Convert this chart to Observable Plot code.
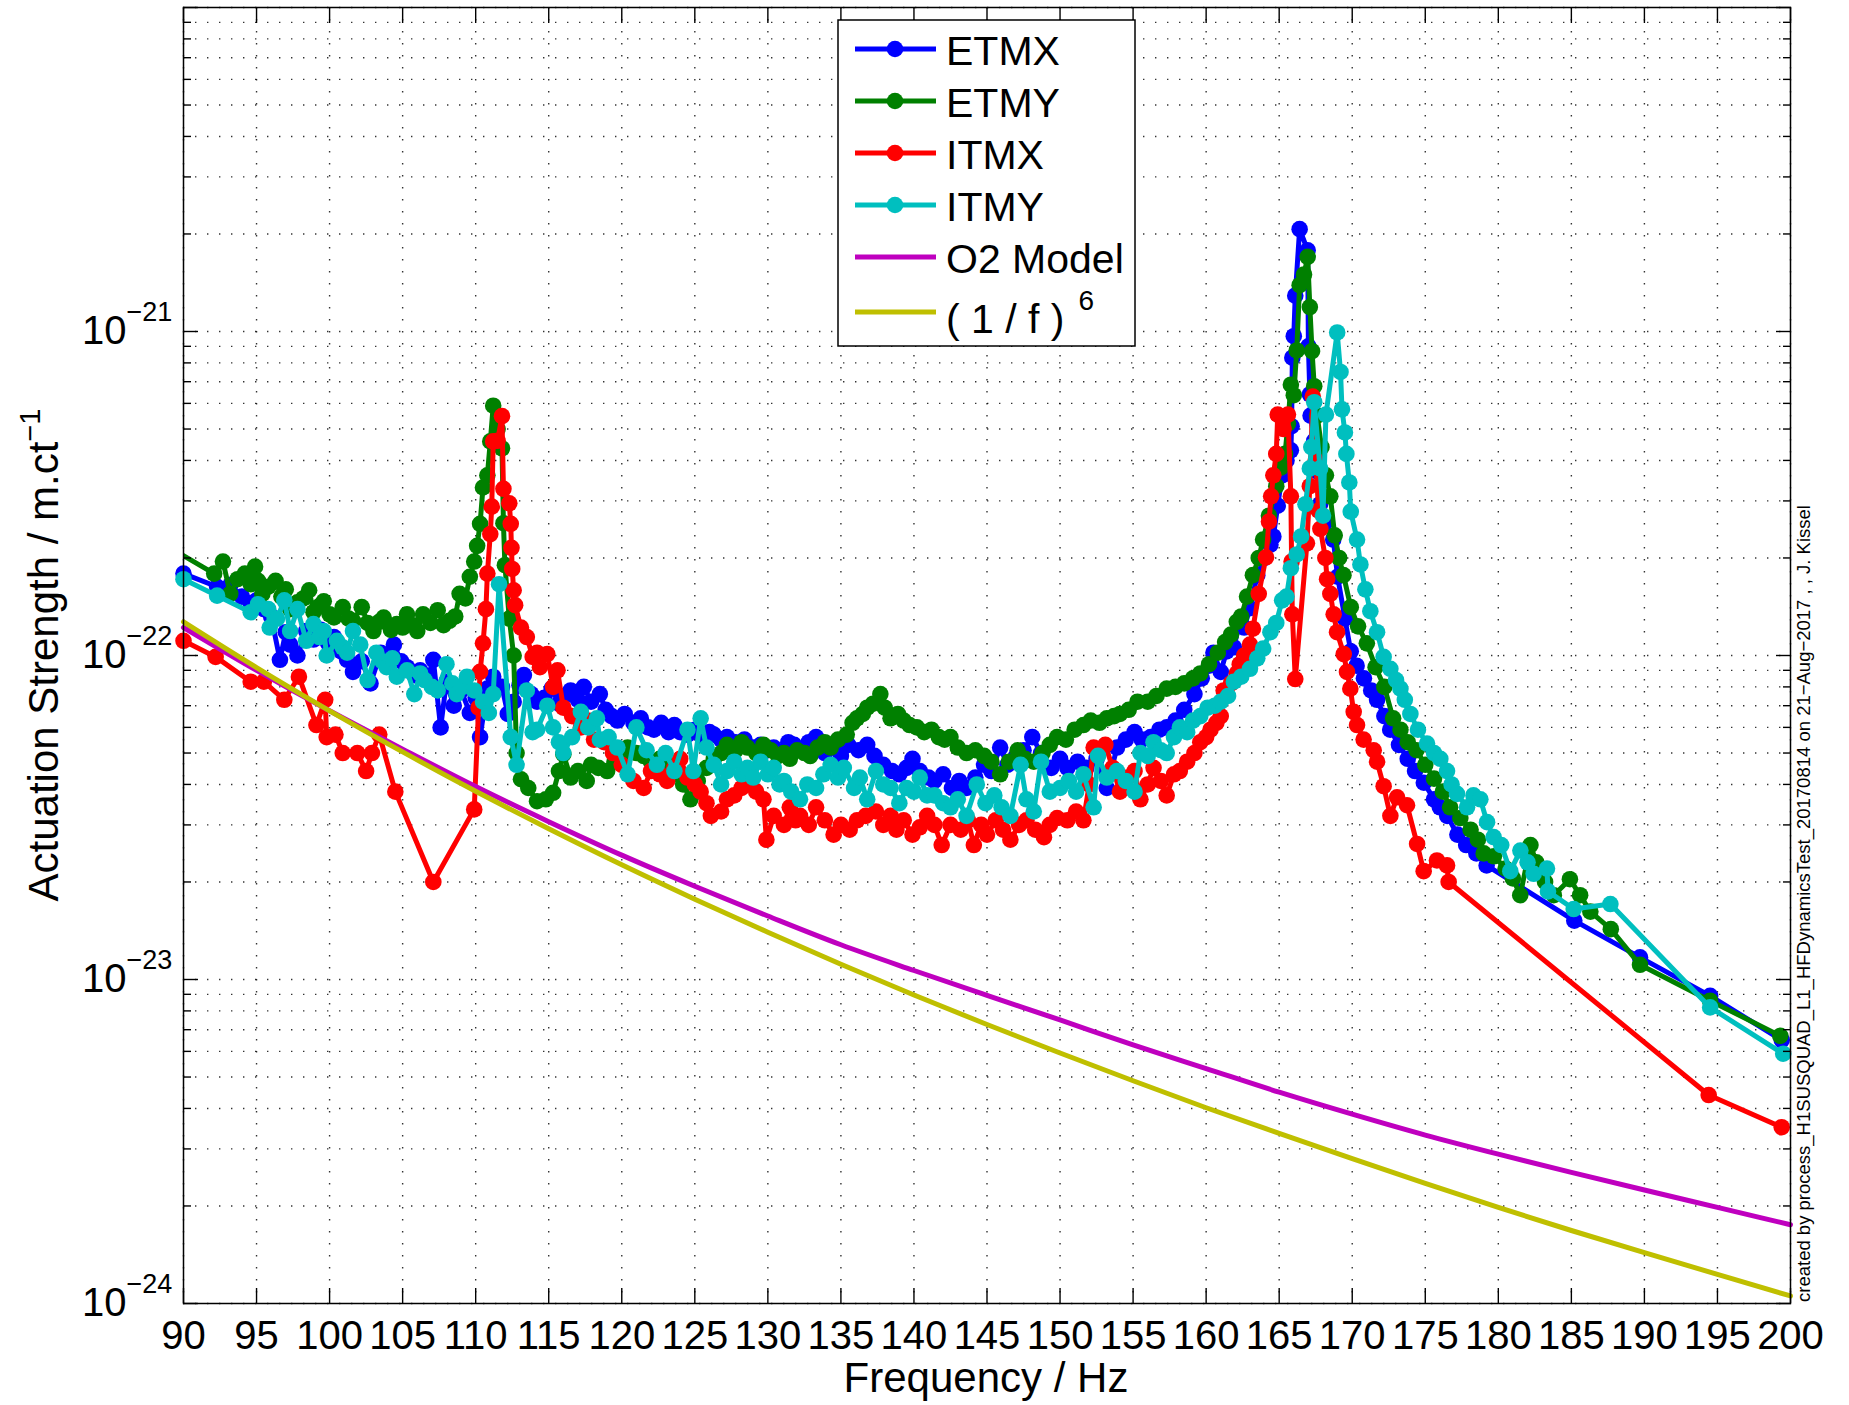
<!DOCTYPE html>
<html><head><meta charset="utf-8">
<script src="https://cdn.jsdelivr.net/npm/d3@7"></script>
<script src="https://cdn.jsdelivr.net/npm/@observablehq/plot@0.6"></script>
<style>html,body{margin:0;padding:0;background:#fff;} #chart svg{display:block;}</style>
</head><body><div id="chart"></div>
<script>
// ---- values (amplitude in units of 1e-23 m/ct) ----
const UNIT = 1e-23;
const xTicks = [90,95,100,105,110,115,120,125,130,135,140,145,150,155,160,165,170,175,180,185,190,195,200];
const yMajorExp = [-24,-23,-22,-21];
const yMajor = [1e-24,1e-23,1e-22,1e-21,1e-20];
const yMinor = [2e-24,3e-24,4e-24,5e-24,6e-24,7e-24,8e-24,9e-24,
                2e-23,3e-23,4e-23,5e-23,6e-23,7e-23,8e-23,9e-23,
                2e-22,3e-22,4e-22,5e-22,6e-22,7e-22,8e-22,9e-22,
                2e-21,3e-21,4e-21,5e-21,6e-21,7e-21,8e-21,9e-21];
const seriesNames = ["ETMX","ETMY","ITMX","ITMY","O2 Model","( 1 / f )"];
const seriesColors = ["#0000ff","#008000","#ff0000","#00bfbf","#bf00bf","#bfbf00"];

const etmx = [[90,17.9],[92.3,16.3],[93.2,16.5],[94.0,15.2],[94.6,14.5],[95.0,14.8],[95.5,13.9],[96.0,13.2],[96.6,9.7],[97.0,11.8],[97.3,10.8],[97.8,10.0],[98.4,11.9],[98.9,11.2],[99.4,12.0],[99.9,10.9],[100.3,11.4],[100.8,10.3],[101.2,9.7],[101.6,8.9],[102.2,9.6],[102.8,8.2],[103.5,10.2],[104.0,9.4],[104.4,10.8],[104.9,9.6],[105.3,9.2],[105.8,8.7],[106.2,9.0],[106.7,8.5],[107.1,9.7],[107.6,6.0],[108.0,8.3],[108.5,7.0],[109.0,7.8],[109.6,6.65],[110.0,7.4],[110.3,5.6],[110.8,7.9],[111.2,8.6],[111.8,8.0],[112.2,6.6],[112.6,7.2],[113.0,8.1],[113.3,8.7],[113.8,7.6],[114.2,7.2],[114.7,7.4],[115.2,7.9],[115.7,7.1],[116.1,7.5],[116.5,7.8],[117.0,7.3],[117.4,8.0],[117.9,7.2],[118.5,7.6],[118.9,6.8],[119.3,6.5],[119.7,6.3],[120.2,6.6],[120.8,6.2],[121.3,6.4],[121.8,6.0],[122.2,5.9],[122.7,6.2],[123.2,5.8],[123.6,6.1],[124.0,5.8],[124.5,5.7],[125.0,5.9],[125.5,5.6],[126.0,5.8],[126.3,5.7],[126.8,5.5],[127.2,5.6],[127.8,5.4],[128.4,5.5],[129.0,5.2],[129.5,5.3],[130.0,5.1],[130.4,5.2],[130.9,5.0],[131.4,5.4],[131.8,5.3],[132.3,5.1],[132.8,5.4],[133.3,5.6],[133.9,5.0],[134.5,5.2],[135.0,4.9],[135.5,5.3],[136.2,5.1],[136.8,5.3],[137.3,4.9],[137.9,4.6],[138.5,4.4],[139.0,4.3],[139.5,4.5],[139.9,4.8],[140.4,4.4],[141.0,4.2],[141.4,4.1],[142.0,4.3],[142.6,3.9],[143.1,4.1],[143.6,3.9],[144.2,4.2],[144.8,4.6],[145.3,4.4],[145.9,5.2],[146.4,4.6],[147.0,4.9],[147.5,5.1],[148.1,5.6],[148.7,5.0],[149.4,4.5],[150.0,4.8],[150.5,4.5],[151.2,4.7],[151.8,4.5],[152.5,4.8],[153.2,3.9],[153.9,5.2],[154.5,5.5],[155.1,5.8],[155.6,5.5],[156.2,5.6],[156.8,5.9],[157.3,6.0],[157.9,6.3],[158.5,6.8],[159.2,7.6],[159.7,8.5],[160.2,9.3],[160.5,10.2],[161.0,8.9],[161.4,10.3],[161.9,10.6],[162.3,12.7],[162.6,12.2],[163.0,14.0],[163.5,17.7],[164.0,20.0],[164.4,22.0],[164.6,23.3],[164.9,29.0],[165.2,36.0],[165.5,40.0],[165.8,43.0],[165.85,51.0],[165.9,83.0],[166.0,96.7],[166.1,129],[166.4,207],[166.95,178],[167.0,90],[167.1,64],[167.15,55],[167.4,46],[167.6,37],[167.8,29.3],[168.2,26],[168.7,22.8],[169.0,17.5],[169.5,13.0],[169.9,10.3],[170.3,9.3],[170.8,8.5],[171.3,7.8],[171.7,7.3],[172.2,6.5],[172.6,5.9],[173.2,5.3],[173.8,4.8],[174.3,4.4],[174.9,4.05],[175.6,3.6],[176.0,3.4],[176.5,3.2],[177.2,2.8],[177.8,2.6],[178.5,2.45],[179.2,2.25],[185.2,1.52],[189.7,1.17],[194.5,0.89],[199.4,0.65]];

const etmy = [[89.0,21.6],[92.1,17.9],[92.7,19.5],[93.2,15.5],[93.7,17.2],[94.2,17.9],[94.6,16.6],[94.9,18.8],[95.1,17.0],[95.4,15.5],[95.8,16.3],[96.3,17.0],[96.7,15.2],[97.0,16.0],[97.3,13.9],[97.8,14.6],[98.2,15.0],[98.6,15.9],[98.9,13.6],[99.3,14.2],[99.6,14.7],[100.0,13.4],[100.3,13.1],[100.9,14.1],[101.3,13.0],[101.6,12.8],[102.2,14.1],[102.6,12.6],[103.0,11.9],[103.4,12.7],[103.7,13.1],[104.2,12.0],[104.6,12.5],[105.0,12.2],[105.3,13.4],[105.7,12.4],[106.0,11.9],[106.4,13.4],[106.9,12.6],[107.4,13.8],[107.8,12.4],[108.2,12.8],[108.6,13.2],[108.9,15.5],[109.3,15.0],[109.6,17.5],[109.9,19.5],[110.1,21.8],[110.3,25.5],[110.5,33.0],[110.8,36.0],[111.0,45.8],[111.2,59.0],[111.5,50.0],[111.8,43.6],[111.9,25.6],[112.0,19.0],[112.3,13.0],[112.6,10.0],[112.8,5.0],[113.1,4.15],[113.6,3.9],[114.2,3.55],[114.8,3.6],[115.3,3.77],[115.7,4.4],[116.0,4.96],[116.5,4.2],[117.0,4.4],[117.6,4.1],[117.9,4.6],[118.4,4.5],[119.0,4.4],[119.5,4.7],[120.0,4.9],[120.4,5.2],[121.0,5.0],[121.5,4.9],[122.0,4.7],[122.6,4.8],[123.1,4.6],[123.6,4.3],[124.2,4.0],[124.7,3.6],[125.2,4.1],[125.8,4.5],[126.3,4.8],[126.8,5.0],[127.2,5.3],[127.8,5.1],[128.2,5.4],[128.6,5.2],[129.2,5.0],[129.7,5.3],[130.2,5.1],[130.7,4.9],[131.1,5.0],[131.5,4.8],[132.0,5.1],[132.5,5.0],[132.9,4.9],[133.4,5.2],[133.9,5.4],[134.3,5.2],[134.8,5.5],[135.4,5.7],[135.8,6.2],[136.1,6.4],[136.5,6.6],[136.8,6.9],[137.2,7.1],[137.7,7.6],[138.0,6.9],[138.4,6.4],[138.9,6.6],[139.3,6.3],[139.7,6.1],[140.2,6.0],[140.7,5.8],[141.2,5.9],[141.7,5.6],[142.1,5.5],[142.5,5.6],[143.0,5.2],[143.6,5.0],[144.2,5.1],[144.8,4.9],[145.3,4.7],[145.9,4.3],[146.5,4.7],[147.1,5.1],[147.6,4.8],[148.2,4.7],[148.8,5.0],[149.3,5.3],[149.8,5.6],[150.4,5.5],[151.0,5.9],[151.6,6.1],[152.1,6.3],[152.7,6.2],[153.2,6.4],[153.7,6.5],[154.1,6.6],[154.7,6.8],[155.3,7.2],[156.0,7.2],[156.6,7.5],[157.3,7.9],[157.9,8.0],[158.5,8.2],[159.1,8.5],[159.6,8.8],[160.2,9.4],[160.8,10.2],[161.3,11.0],[161.7,11.6],[162.1,12.7],[162.4,13.2],[162.8,15.2],[163.2,17.7],[163.6,20.0],[163.9,22.8],[164.3,27.0],[164.8,33.3],[165.1,38.0],[165.4,41.9],[165.6,52.0],[165.8,68.5],[166.0,63.6],[166.2,87.4],[166.4,139],[166.7,150],[166.95,170],[167.1,119],[167.25,87],[167.4,67.8],[167.6,55],[167.9,44],[168.2,36],[168.5,31],[168.8,23.5],[169.1,20.0],[169.4,17.7],[169.9,14.1],[170.4,12.3],[171.0,10.9],[171.6,9.2],[172.2,8.0],[172.8,6.4],[173.3,5.9],[173.8,5.4],[174.4,5.1],[175.0,4.6],[175.6,4.17],[176.2,3.8],[176.7,3.4],[177.4,3.15],[178.1,2.9],[178.6,2.7],[179.0,2.45],[179.7,2.4],[180.5,2.2],[181.0,2.05],[181.5,1.82],[182.2,2.6],[182.6,2.3],[183.2,2.0],[183.8,1.82],[184.9,2.04],[185.6,1.82],[186.3,1.62],[187.7,1.43],[189.7,1.11],[194.5,0.86],[199.3,0.67]];

const itmx = [[90,11.1],[92.2,9.9],[94.6,8.3],[95.5,8.3],[96.9,7.3],[97.9,8.6],[99.1,6.1],[99.7,7.3],[99.8,5.6],[100.4,5.7],[100.9,5.0],[101.9,5.0],[102.5,4.4],[102.9,5.0],[103.4,5.7],[104.5,3.8],[107.1,2.0],[109.9,3.35],[110.2,6.9],[110.3,8.9],[110.5,10.9],[110.7,13.9],[110.8,17.9],[111.0,23.7],[111.1,28.8],[111.2,45.8],[111.5,46.0],[111.8,54.8],[111.9,32.7],[112.3,29.5],[112.4,25.5],[112.45,21.5],[112.5,18.5],[112.6,15.9],[112.7,14.3],[113.1,12.2],[113.5,11.4],[113.9,9.9],[114.2,10.2],[114.4,9.2],[114.9,10.1],[115.3,8.0],[115.6,9.0],[116.0,6.9],[116.6,6.5],[117.2,6.0],[117.7,6.3],[118.1,5.5],[118.8,5.4],[119.4,5.0],[120.0,4.6],[120.8,4.1],[121.5,3.9],[122.0,4.4],[122.6,4.3],[123.1,4.1],[123.6,4.5],[124.0,4.8],[124.5,4.2],[125.0,4.0],[125.4,3.8],[125.8,3.5],[126.1,3.2],[126.8,3.3],[127.2,3.6],[127.7,3.7],[128.2,3.9],[128.8,4.1],[129.2,3.8],[129.7,3.6],[129.9,2.7],[130.4,3.2],[131.1,3.0],[131.5,3.4],[131.9,3.1],[132.2,3.2],[132.8,3.0],[133.3,3.4],[133.9,3.1],[134.5,2.8],[135.0,3.0],[135.6,2.9],[136.1,3.1],[136.7,3.2],[137.4,3.3],[137.9,3.0],[138.4,3.2],[138.8,2.9],[139.3,3.1],[139.9,2.8],[140.4,2.95],[140.9,3.2],[141.4,3.0],[141.9,2.6],[142.5,3.0],[143.2,2.9],[143.7,3.1],[144.1,2.6],[144.6,3.0],[145.0,2.8],[145.6,3.1],[146.1,2.9],[146.6,2.7],[147.2,3.0],[147.7,3.1],[148.3,2.9],[148.9,2.75],[149.3,3.0],[149.8,3.15],[150.5,3.1],[151.1,3.3],[151.6,3.1],[152.0,4.0],[152.3,5.2],[153.1,5.3],[153.6,4.5],[154.1,3.8],[154.6,4.2],[155.1,4.4],[155.5,3.6],[156.0,4.0],[156.4,4.5],[156.9,4.1],[157.3,3.7],[157.8,4.3],[158.2,4.4],[158.7,4.7],[159.2,5.0],[159.6,5.4],[160.0,5.6],[160.3,5.9],[160.7,6.2],[161.0,6.5],[161.2,7.8],[161.4,7.6],[161.7,8.2],[162.1,8.8],[162.3,9.4],[162.6,10.0],[163.0,10.8],[163.2,12.1],[163.6,15.5],[164.1,20.1],[164.3,25.9],[164.45,31],[164.6,36],[164.8,41.9],[164.9,55.4],[165.3,50],[165.6,55.4],[165.8,31],[165.85,19.5],[165.9,13.4],[166.1,8.46],[166.9,22.2],[167.1,33.3],[167.3,63],[167.5,40],[167.7,28],[167.82,24.6],[168.16,20],[168.28,17.2],[168.5,15.5],[168.73,13.4],[168.96,11.8],[169.42,10.1],[169.64,8.9],[169.87,7.9],[170.1,6.7],[170.33,6.1],[170.78,5.5],[171.47,5.1],[171.7,4.7],[172.15,3.95],[172.61,3.2],[173.07,3.65],[173.75,3.45],[174.44,2.62],[174.89,2.16],[175.8,2.33],[176.49,2.25],[176.6,2.0],[194.4,0.44],[199.4,0.35]];

const itmy = [[90,17.2],[92.3,15.3],[94.6,13.6],[95.1,14.4],[95.8,13.9],[95.9,12.2],[96.4,13.0],[96.9,14.8],[97.3,11.9],[97.8,13.9],[98.4,11.1],[98.9,12.5],[99.3,11.4],[99.6,11.9],[99.8,10.0],[100.5,11.1],[100.9,10.6],[101.2,10.2],[101.6,11.9],[102.1,10.8],[102.6,8.4],[103.2,10.2],[103.6,9.6],[103.9,9.2],[104.3,9.8],[104.6,8.6],[105.3,9.0],[105.8,7.6],[106.2,8.8],[106.5,8.4],[107.0,8.0],[107.4,7.8],[108.0,9.4],[108.4,8.2],[108.7,7.6],[109.1,8.0],[109.4,8.6],[109.9,7.8],[110.5,7.2],[110.9,6.65],[111.2,7.6],[111.6,16.6],[112.4,5.6],[112.8,4.6],[113.5,7.8],[113.9,5.8],[114.2,5.9],[114.9,7.0],[115.3,6.0],[115.7,5.4],[116.0,5.0],[116.6,5.6],[117.2,6.7],[117.7,6.0],[118.3,6.4],[118.5,5.5],[119.1,5.6],[119.7,5.2],[120.4,4.3],[121.0,6.0],[121.7,5.1],[122.4,4.6],[123.0,5.0],[123.6,4.4],[124.5,5.9],[124.9,4.4],[125.4,6.4],[125.8,5.2],[126.3,4.6],[126.8,4.0],[127.2,4.4],[127.7,4.7],[128.2,4.3],[128.6,4.5],[129.0,4.2],[129.5,4.7],[130.0,4.3],[130.4,4.5],[130.8,4.0],[131.1,4.1],[131.6,3.8],[132.2,3.6],[132.7,4.0],[133.3,3.9],[133.8,4.3],[134.3,4.6],[134.8,4.2],[135.2,4.5],[135.9,3.9],[136.3,4.2],[136.8,3.6],[137.4,4.4],[137.9,4.0],[138.4,3.9],[139.0,3.5],[139.5,3.9],[140.0,3.8],[140.4,4.2],[140.9,3.7],[141.4,3.7],[142.0,3.5],[142.5,3.4],[143.0,3.6],[143.6,3.2],[144.3,4.0],[144.9,3.5],[145.5,3.7],[146.0,3.4],[146.6,3.2],[147.3,4.6],[147.7,3.6],[148.2,3.3],[148.7,4.7],[149.3,3.8],[150.0,3.9],[150.6,4.1],[151.1,3.8],[151.6,4.3],[152.3,3.4],[152.6,4.9],[153.2,4.2],[153.9,4.4],[154.5,4.1],[155.1,3.8],[155.5,5.0],[156.0,4.9],[156.4,5.4],[156.9,5.1],[157.3,5.0],[157.8,5.6],[158.2,6.0],[158.7,5.8],[159.1,6.3],[159.6,6.5],[160.1,6.9],[160.6,7.0],[161.0,7.2],[161.5,7.5],[161.9,8.3],[162.4,8.6],[163.0,9.1],[163.5,9.8],[163.9,10.5],[164.4,11.8],[164.8,12.6],[165.2,14.8],[165.5,15.2],[165.8,18.6],[166.2,20.5],[166.5,23.3],[166.8,29.3],[167.1,37.8],[167.2,44],[167.4,60.5],[167.8,37.8],[168.0,27],[168.2,55.4],[168.97,99.3],[169.2,75],[169.3,57.5],[169.5,48.8],[169.6,41.9],[169.8,34.2],[169.9,27.8],[170.33,22.8],[170.56,19.1],[170.9,16],[171.24,13.7],[171.7,11.8],[172.15,9.9],[172.61,9.1],[173.0,8.4],[173.3,7.9],[173.6,7.3],[173.98,6.6],[174.5,5.9],[175.12,5.35],[175.6,5.0],[176.03,4.8],[176.49,4.4],[176.8,4.0],[177.17,3.74],[177.86,3.4],[178.3,3.7],[178.77,3.6],[179.23,3.06],[179.68,2.75],[180.2,2.6],[180.82,2.16],[181.51,2.5],[182.0,2.3],[182.42,2.12],[183.33,2.2],[183.4,1.87],[185.16,1.65],[187.67,1.71],[194.5,0.82],[199.5,0.59]];

const modelFreq = [90,95,100,105,110,115,120,125,130,135,140,145,150,155,160,165,170,175,180,185,190,195,200];
const o2Model = [12.2,9.0,6.75,5.14,3.94,3.07,2.42,1.94,1.57,1.28,1.066,0.893,0.750,0.628,0.531,0.449,0.384,0.331,0.289,0.254,0.224,0.198,0.175];
const invF6 = [12.7,9.18,6.75,5.04,3.81,2.92,2.26,1.77,1.40,1.115,0.896,0.726,0.593,0.487,0.402,0.335,0.280,0.235,0.198,0.168,0.1435,0.123,0.1055];

// ---- build tables ----
const rows = (pairs) => pairs.map(([f, v]) => ({f, v: v * UNIT}));
const measured = [etmx, etmy, itmx, itmy].map(rows);
const o2Rows = modelFreq.map((f, i) => ({f, v: o2Model[i] * UNIT}));
const f6Rows = modelFreq.map((f, i) => ({f, v: invF6[i] * UNIT}));

const FONT = "'Liberation Sans', Arial, Helvetica, sans-serif";
const gridStyle = {stroke: "#000", strokeOpacity: 0.8, strokeWidth: 1.4, strokeDasharray: "1.4,10.6"};
const tickStyle = {stroke: "#000", strokeWidth: 1.4, fill: "none", label: null};
const LW = 5, R = 8.3;

const marks = [
  Plot.gridX(xTicks, gridStyle),
  Plot.gridY(yMajor.concat(yMinor), gridStyle)
];
measured.forEach((d, i) => {
  const clip = i === 1;
  marks.push(Plot.line(d, {x: "f", y: "v", stroke: seriesColors[i], strokeWidth: LW, clip}));
  marks.push(Plot.dot(d, {x: "f", y: "v", r: R, fill: seriesColors[i], stroke: "none", clip}));
});
marks.push(Plot.line(o2Rows, {x: "f", y: "v", stroke: seriesColors[4], strokeWidth: LW, curve: "monotone-x"}));
marks.push(Plot.line(f6Rows, {x: "f", y: "v", stroke: seriesColors[5], strokeWidth: LW, curve: "monotone-x"}));
marks.push(
  Plot.axisX(xTicks, {anchor: "bottom", tickSize: -15, ...tickStyle}),
  Plot.axisX(xTicks, {anchor: "top", tickSize: -15, ...tickStyle}),
  Plot.axisX(xTicks, {anchor: "bottom", tickSize: 0, tickPadding: 17, fontSize: 40, fill: "#000", label: null}),
  Plot.axisY(yMajor, {anchor: "left", tickSize: -15, ...tickStyle}),
  Plot.axisY(yMajor, {anchor: "right", tickSize: -15, ...tickStyle}),
  Plot.axisY(yMinor, {anchor: "left", tickSize: -8, ...tickStyle}),
  Plot.axisY(yMinor, {anchor: "right", tickSize: -8, ...tickStyle}),
  Plot.text(yMajorExp, {frameAnchor: "left", y: e => Math.pow(10, e), text: () => "10", dx: -57, textAnchor: "end", fontSize: 40, fill: "#000"}),
  Plot.text(yMajorExp, {frameAnchor: "left", y: e => Math.pow(10, e), text: e => "\u2212" + Math.abs(e), dx: -57, dy: -19, textAnchor: "start", fontSize: 27, fill: "#000"}),
  Plot.frame({stroke: "#000", strokeWidth: 1.5})
);

const chart = Plot.plot({
  width: 1849, height: 1405,
  marginLeft: 183, marginRight: 59, marginTop: 7, marginBottom: 102,
  style: {fontFamily: FONT, background: "#fff", color: "#000", overflow: "visible"},
  x: {domain: [90, 200]},
  y: {type: "log", domain: [1e-24, 1e-20]},
  marks
});
document.getElementById("chart").appendChild(chart);

// ---- axis titles, caption and legend ----
const svg = d3.select(chart);
const ann = svg.append("g").attr("font-family", FONT).attr("fill", "#000");

ann.append("text").attr("x", 986).attr("y", 1392).attr("text-anchor", "middle")
  .attr("font-size", 42).text("Frequency / Hz");

const yl = ann.append("text").attr("transform", "translate(58,655) rotate(-90)")
  .attr("text-anchor", "middle").attr("font-size", 42);
yl.append("tspan").text("Actuation Strength / m.ct");
yl.append("tspan").attr("dy", -18).attr("font-size", 29).text("\u22121");

ann.append("text").attr("transform", "translate(1810,1302) rotate(-90)")
  .attr("text-anchor", "start").attr("font-size", 18.5)
  .text("created by process_H1SUSQUAD_L1_HFDynamicsTest_20170814 on 21\u2212Aug\u22122017 , , J. Kissel");

const leg = svg.append("g").attr("font-family", FONT).attr("text-anchor", "start");
leg.append("rect").attr("x", 838).attr("y", 20).attr("width", 297).attr("height", 326)
  .attr("fill", "#fff").attr("stroke", "#000").attr("stroke-width", 1.5);
const rowY = [49, 101, 153, 205, 257, 312];
const baseY = [65, 117, 169, 221, 273, 333];
seriesNames.forEach((name, i) => {
  leg.append("line").attr("x1", 855).attr("x2", 936).attr("y1", rowY[i]).attr("y2", rowY[i])
    .attr("stroke", seriesColors[i]).attr("stroke-width", LW);
  if (i < 4) leg.append("circle").attr("cx", 895).attr("cy", rowY[i]).attr("r", R).attr("fill", seriesColors[i]);
  const t = leg.append("text").attr("x", 946).attr("y", baseY[i]).attr("text-anchor", "start")
    .attr("font-size", 41).attr("fill", "#000").text(name);
  if (i === 5) t.append("tspan").attr("dx", 14).attr("dy", -23).attr("font-size", 28).text("6");
});
</script>
</body></html>
